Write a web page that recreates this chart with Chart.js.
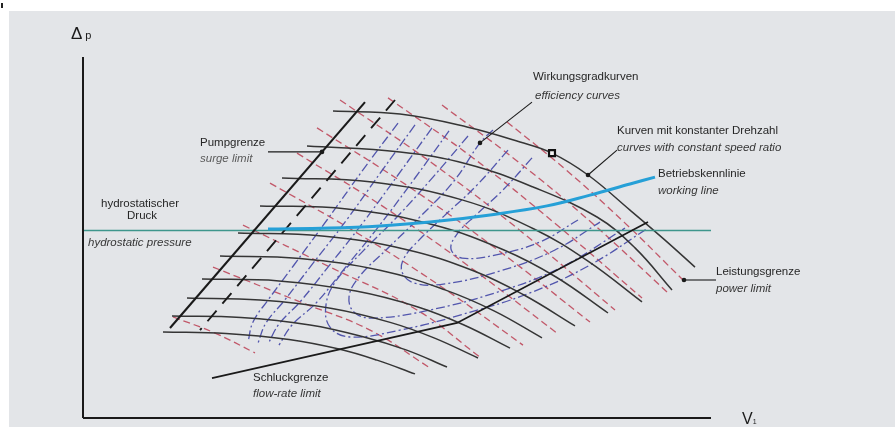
<!DOCTYPE html>
<html>
<head>
<meta charset="utf-8">
<script src="https://cdn.jsdelivr.net/npm/chart.js@4.4.1/dist/chart.umd.min.js"></script>
<style>
  html, body { margin: 0; padding: 0; background: #ffffff; width: 895px; height: 427px; overflow: hidden; }
  #panel { position: absolute; left: 9px; top: 11px; right: 0; bottom: 0; background: #e3e5e8; }
  #mark { position: absolute; left: 1px; top: 3px; width: 2px; height: 5px; background: #222; }
  #map { position: absolute; left: 0; top: 0; }
  .t { position: absolute; font-family: "Liberation Sans", Arial, sans-serif; font-size: 11.5px; line-height: 1; color: #262626; white-space: nowrap; }
  .i { font-style: italic; color: #363636; }
  .ax { position: absolute; font-family: "Liberation Sans", Arial, sans-serif; line-height: 1; color: #1a1a1a; white-space: nowrap; }
</style>
</head>
<body>
<div id="panel"></div>
<div id="mark"></div>
<canvas id="map" width="895" height="427"></canvas>

<div class="ax" style="left:71px;top:25px;font-size:17px">Δ<span style="font-size:11px;margin-left:3px">p</span></div>
<div class="ax" style="left:742px;top:411px;font-size:16px">V<span style="font-size:7px">1</span></div>

<div class="t" style="left:533px;top:71px">Wirkungsgradkurven</div>
<div class="t i" style="left:535px;top:90px">efficiency curves</div>
<div class="t" style="left:617px;top:125px">Kurven mit konstanter Drehzahl</div>
<div class="t i" style="left:617px;top:142px">curves with constant speed ratio</div>
<div class="t" style="left:658px;top:168px">Betriebskennlinie</div>
<div class="t i" style="left:658px;top:185px">working line</div>
<div class="t" style="left:716px;top:266px">Leistungsgrenze</div>
<div class="t i" style="left:716px;top:283px">power limit</div>
<div class="t" style="left:200px;top:137px">Pumpgrenze</div>
<div class="t i" style="left:200px;top:153px;color:#5a5a5a">surge limit</div>
<div class="t" style="left:101px;top:198px">hydrostatischer</div>
<div class="t" style="left:127px;top:210px">Druck</div>
<div class="t i" style="left:88px;top:237px">hydrostatic pressure</div>
<div class="t" style="left:253px;top:372px">Schluckgrenze</div>
<div class="t i" style="left:253px;top:388px">flow-rate limit</div>

<script>
// Axis extents (flow V1 horizontally, pressure difference Δp vertically)
const xAxisEnd = 125.6;
const yAxisEnd = 120.33;
const hydrostaticLevel = 62.5;

// Curves with constant speed ratio, top to bottom
const speed1  = [[50,102.3],[63.4,101.3],[76.8,97],[87.4,92],[93.8,88.3],[101,81],[109.4,69.3],[116.4,59.3],[122.4,50.3]];
const speed2  = [[44.8,90.7],[63.4,88.7],[76.8,84.7],[90,77],[102.8,67],[110.4,56.7],[117.8,42.7]];
const speed3  = [[39.8,80],[57.8,78.7],[75.8,72.7],[90.2,63],[101,52.3],[111.8,38.7]];
const speed4  = [[35.4,70.7],[52.8,69.7],[70.2,64.3],[84.2,56],[94.6,47],[105,35]];
const speed5  = [[31,61.7],[47.8,60.7],[64.6,56.2],[78.2,49],[88.2,41],[98.4,30.7]];
const speed6  = [[27.4,54],[43.4,53.2],[59.6,49.2],[72.4,42.7],[82.2,35.7],[91.8,26.7]];
const speed7  = [[23.8,46.3],[39.2,45.7],[54.6,42.3],[67,37],[76.2,31],[85.4,23.3]];
const speed8  = [[20.8,40],[35.4,39.3],[49.8,36.5],[61.6,31.8],[70.2,26.7],[79,20]];
const speed9  = [[17.8,34],[31.6,33.5],[45.4,31],[56.2,27],[64.6,22.7],[72.8,17]];
const speed10 = [[16,28.7],[28.6,28.2],[41.2,26.2],[51.2,23],[58.8,19.3],[66.4,14.7]];

// Constant power lines (dashed red), outermost one is the power limit
const power1  = [[84.8,98.7],[96.6,82.7],[108.2,65.3],[120,46]];
const power2  = [[71.8,104.3],[86.8,85.7],[101.8,65],[116.8,42]];
const power3  = [[61,106.7],[78,86.7],[94.8,64.3],[111.8,40]];
const power4  = [[51.4,106],[69.8,85],[88,61.7],[106.4,36]];
const power5  = [[46.8,96.7],[65,77.3],[83.2,55.7],[101.4,32]];
const power6  = [[42.8,88.3],[60.2,70.3],[77.4,50.3],[94.8,28.3]];
const power7  = [[37.4,78.3],[54.2,62.3],[71.2,44.3],[88,24.3]];
const power8  = [[32,64.3],[49.4,50.3],[66.8,36],[79.4,20.3]];
const power9  = [[26,50.3],[43.4,38.7],[57.4,29.3],[69.4,16.7]];
const power10 = [[18,33.7],[26.4,28.3],[34.4,21.7]];

// Efficiency curves (dash-dot): open branches on the left, closed loops round the optimum
const eff1 = [[63,98.3],[56,82.7],[48.8,66],[42.2,51],[37,39.3],[34,32],[33,25.3]];
const eff2 = [[66.4,97.7],[59.6,82],[52.4,65.3],[45.6,50.7],[40.2,39],[36.6,31.7],[35,25]];
const eff3 = [[69.8,96.7],[63,81],[55.8,64.7],[49,50.3],[43.4,38.7],[39.2,31.3],[37,24.7]];
const eff4 = [[73.2,95.7],[66.4,80],[59.2,64],[52.4,50],[46.6,38.3],[41.8,31],[39.2,24.3]];
const eff5 = [[77,94],[70,80.3],[62.8,67],[55.8,55.3],[50.6,45.7],[48.6,37.7],[49.4,30.3],[53.4,27],[63.4,29.3],[75.4,34.3],[89.4,41.7],[101.4,51],[113,63.3]];
const eff6 = [[82,96],[79.4,91.7],[74.2,79],[67.2,66.7],[60.6,56],[55.2,47],[53.2,40.3],[54.4,35],[58.4,33.3],[69.4,36],[82.4,41.7],[95.4,50],[108.4,63.3]];
const eff7 = [[85,89.3],[78.6,77.3],[72.2,67.3],[67.2,59.3],[64.2,53.3],[63.8,48.7],[66.2,45],[72.4,44.7],[83.4,49],[94.4,56],[103.4,65.3]];
const eff8 = [[89.8,86.7],[84,76],[78.6,67.7],[74.8,61.3],[73.6,56.3],[75.8,53.3],[82.4,54.3],[91.4,58.7],[99,66]];

// Limits and the working line
const surgeLimit      = [[56.4,105.3],[17.4,30]];
const surgeLimitShift = [[62.4,106],[23.4,29.3]];
const flowRateLimit   = [[25.8,13.3],[74.8,31.7],[113,65.3]];
const workingLine     = [[37,63],[49.4,63.3],[59.4,64],[69.4,65.3],[81.4,67.7],[92.8,70.7],[101.4,74.3],[109.4,78],[114.4,80.3]];

// Label leaders: [anchor on curve, free end]
const leaderSurge      = [[47.8,88.7],[37,88.7]];
const leaderEfficiency = [[79.4,91.7],[89.8,105.3]];
const leaderSpeed      = [[101,81],[106.8,89.3]];
const leaderPower      = [[120.2,46],[126.6,46]];
const leaderAnchors    = [[47.8,88.7],[79.4,91.7],[101,81],[120.2,46]];
const designPoint      = [[93.8,88.3]];

const toXY = a => a.map(([x, y]) => ({ x, y }));
function line(data, color, width, dash, order, tension) {
  return {
    data: toXY(data), showLine: true, fill: false, clip: false,
    borderColor: color, borderWidth: width, borderDash: dash || [],
    pointRadius: 0, pointHoverRadius: 0,
    tension: tension === undefined ? 0.4 : tension, order: order
  };
}

const SPEED = '#353535', RED = 'rgba(192,80,98,0.95)', BLUE = 'rgba(74,78,170,0.95)', INK = '#1a1a1a';
const datasets = [];
[speed1, speed2, speed3, speed4, speed5, speed6, speed7, speed8, speed9, speed10]
  .forEach(s => datasets.push(line(s, SPEED, 1.5, [], 4)));
[power1, power2, power3, power4, power5, power6, power7, power8, power9, power10]
  .forEach(s => datasets.push(line(s, RED, 1.3, [7, 4], 6)));
[eff1, eff2, eff3, eff4, eff5, eff6, eff7, eff8]
  .forEach(s => datasets.push(line(s, BLUE, 1.3, [9, 3, 2, 3], 5)));

datasets.push(line([[0, hydrostaticLevel], [xAxisEnd, hydrostaticLevel]], 'rgb(62,150,140)', 1.6, [], 3, 0));
datasets.push(line(surgeLimit, INK, 2.1, [], 2, 0));
datasets.push(line(surgeLimitShift, INK, 1.9, [14, 9], 2, 0));
datasets.push(line(flowRateLimit, INK, 1.7, [], 2, 0));
datasets.push(line(workingLine, 'rgb(38,160,215)', 3, [], 1));
[leaderSurge, leaderEfficiency, leaderSpeed, leaderPower]
  .forEach(s => datasets.push(line(s, INK, 1.1, [], 1, 0)));
datasets.push(line([[0, 0], [0, yAxisEnd]], INK, 2, [], 1, 0));
datasets.push(line([[0, 0], [xAxisEnd, 0]], INK, 2, [], 1, 0));
datasets.push({
  data: toXY(leaderAnchors), showLine: false, clip: false, order: 0,
  pointRadius: 2.3, pointBackgroundColor: INK, pointBorderColor: INK, pointBorderWidth: 0
});
datasets.push({
  data: toXY(designPoint), showLine: false, clip: false, order: 0,
  pointStyle: 'rect', pointRadius: 4.2, pointBackgroundColor: '#f4f4f4',
  pointBorderColor: '#111', pointBorderWidth: 2.2
});

new Chart(document.getElementById('map'), {
  type: 'scatter',
  data: { datasets },
  options: {
    responsive: false,
    devicePixelRatio: 1,
    animation: false,
    events: [],
    layout: { padding: { left: 83, top: 58, right: 187, bottom: 9 } },
    plugins: { legend: { display: false }, tooltip: { enabled: false } },
    scales: {
      x: { type: 'linear', min: 0, max: 125, display: false },
      y: { type: 'linear', min: 0, max: 120, display: false }
    }
  }
});
</script>
</body>
</html>
